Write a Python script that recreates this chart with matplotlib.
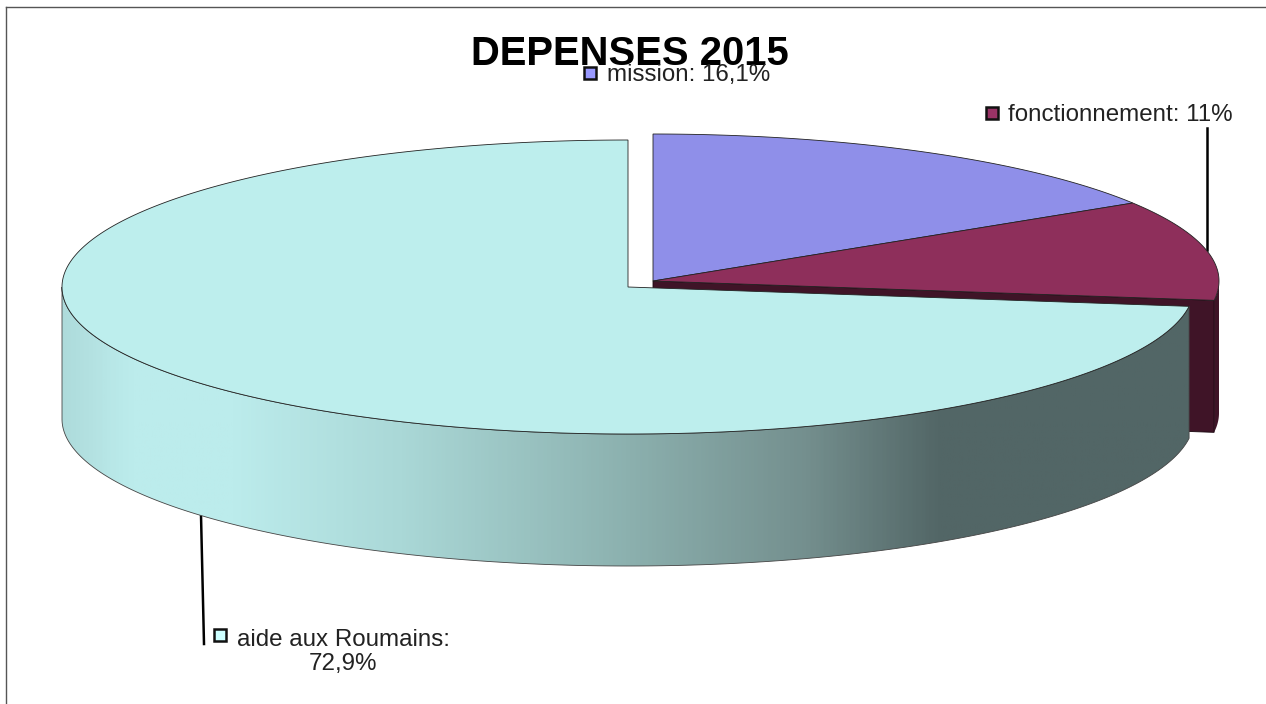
import numpy as np
import matplotlib
matplotlib.use('Agg')
import matplotlib.pyplot as plt
from matplotlib.colors import LinearSegmentedColormap
from matplotlib.patches import Polygon, Rectangle

plt.rcParams['font.family'] = ['Liberation Sans', 'DejaVu Sans']

title = 'DEPENSES 2015'
categories = ['mission', 'fonctionnement', 'aide aux Roumains']
values = [16.1, 11.0, 72.9]
labels = ['mission: 16,1%', 'fonctionnement: 11%', 'aide aux Roumains:\n72,9%']
top_colors = ['#8f8fe9', '#8e2f5b', '#bdeeed']
key_colors = ['#9999ff', '#993366', '#ccffff']

# pie geometry in pixels
RX, RY, DEPTH = 566, 147, 132
CENTER_BACK = (653, 281)
CENTER_AIDE = (628, 287)
LINE = '#222222'


def arc(center, t0, t1, drop=0, n=200):
    # angles are clockwise from 12 o'clock, y axis points down
    t = np.radians(np.linspace(t0, t1, n))
    return np.column_stack([center[0] + RX * np.sin(t),
                            center[1] - RY * np.cos(t) + drop])


fig = plt.figure(figsize=(12.66, 7.04), dpi=100)
ax = fig.add_axes([0, 0, 1, 1])
ax.set_xlim(0, 1266)
ax.set_ylim(704, 0)
ax.axis('off')

# outer frame
ax.plot([6, 6], [704, 7], color='#555555', lw=1)
ax.plot([6, 1266], [7, 7], color='#555555', lw=1)

edges = np.cumsum([0] + values) * 3.6

# side of fonctionnement, sits behind the big slice
t1 = edges[2]
rim = arc(CENTER_BACK, 90, t1)
rim_low = arc(CENTER_BACK, 90, t1, DEPTH)
ax.add_patch(Polygon(np.vstack([rim, rim_low[::-1]]), fc='#3f1427', ec='none', zorder=2))
cut = np.array([CENTER_BACK, rim[-1], rim_low[-1], [CENTER_BACK[0], CENTER_BACK[1] + DEPTH]])
ax.add_patch(Polygon(cut, fc='#3f1427', ec='#1a0810', lw=0.6, zorder=2))

# top of mission and fonctionnement
for i in range(2):
    pts = np.vstack([[CENTER_BACK], arc(CENTER_BACK, edges[i], edges[i + 1])])
    ax.add_patch(Polygon(pts, fc=top_colors[i], ec=LINE, lw=0.6, zorder=3))

# side of aide aux Roumains with the horizontal shading
t0, t1 = edges[2], edges[3]
front = arc(CENTER_AIDE, t0, 270, n=400)
front_low = arc(CENTER_AIDE, t0, 270, DEPTH, n=400)
side = Polygon(np.vstack([front, front_low[::-1]]), fc='none', ec='#444444', lw=0.6, zorder=5)
ax.add_patch(side)
shade = LinearSegmentedColormap.from_list('shade', [
    (0.00, '#aedbdb'), (0.06, '#bcecec'), (0.15, '#bcecec'), (0.30, '#aad8d7'),
    (0.48, '#8fb5b3'), (0.66, '#748f8e'), (0.78, '#526666'), (1.00, '#526666')])
grad = ax.imshow(np.linspace(0, 1, 600)[None, :], cmap=shade, aspect='auto',
                 extent=(61, 1191, 570, 280), zorder=4)
grad.set_clip_path(side)
ax.set_xlim(0, 1266)
ax.set_ylim(704, 0)

# top of aide aux Roumains
pts = np.vstack([[CENTER_AIDE], arc(CENTER_AIDE, t0, t1, n=500)])
ax.add_patch(Polygon(pts, fc=top_colors[2], ec=LINE, lw=0.6, zorder=6))

# leader lines
ax.plot([1207, 1207], [128, 250], color='black', lw=1.8, zorder=1)
ax.plot([201, 204], [515, 644], color='black', lw=1.8, zorder=1)

# labels with their colour keys
key_pos = [(584, 67), (986, 107), (214, 629)]
text_pos = [(607, 75), (1008, 115), (343, 652)]
for i in range(3):
    ax.add_patch(Rectangle(key_pos[i], 12, 12, fc=key_colors[i], ec='#111111', lw=1.8, zorder=8))
    if i < 2:
        ax.text(text_pos[i][0], text_pos[i][1], labels[i], fontsize=17.4, color=LINE,
                ha='left', va='center', zorder=9)
    else:
        ax.text(text_pos[i][0], text_pos[i][1], labels[i], fontsize=17.4, color=LINE,
                ha='center', va='center', linespacing=1.08, zorder=9)

ax.text(630, 54, title, fontsize=28.8, fontweight='bold', color='black',
        ha='center', va='center', zorder=7)

fig.savefig('out.png', dpi=100)
